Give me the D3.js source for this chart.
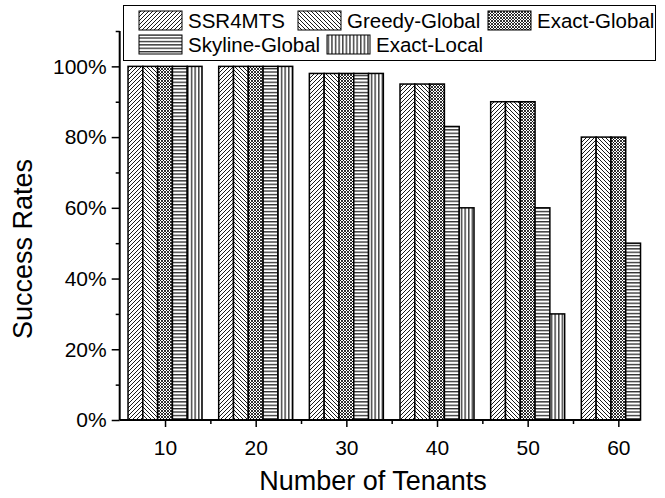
<!DOCTYPE html>
<html><head><meta charset="utf-8">
<script src="https://cdn.jsdelivr.net/npm/d3@7/dist/d3.min.js"></script>
<style>body{margin:0;background:#fff}svg text{font-family:"Liberation Sans",Arial,sans-serif;fill:#000}</style>
</head><body><svg id="c" width="665" height="498"></svg>
<script>
const tenants = [10, 20, 30, 40, 50, 60];
const seriesNames = ["SSR4MTS", "Greedy-Global", "Exact-Global", "Skyline-Global", "Exact-Local"];
const ssr4mts      = [100, 100, 98, 95, 90, 80];
const greedyGlobal = [100, 100, 98, 95, 90, 80];
const exactGlobal  = [100, 100, 98, 95, 90, 80];
const skylineGlobal= [100, 100, 98, 83, 60, 50];
const exactLocal   = [100, 100, 98, 60, 30, 0];
const seriesValues = [ssr4mts, greedyGlobal, exactGlobal, skylineGlobal, exactLocal];
const yTicks = [0, 20, 40, 60, 80, 100];
const yMinorTicks = [10, 30, 50, 70, 90, 110];
const xMinorTicks = [15, 25, 35, 45, 55];

const svg = d3.select("#c");
const defs = svg.append("defs");
function pat(id, w, h, draw){
  const p = defs.append("pattern").attr("id", id).attr("patternUnits","userSpaceOnUse")
    .attr("width", w).attr("height", h);
  p.append("rect").attr("width", w).attr("height", h).attr("fill", "#fff");
  draw(p);
}
pat("p0", 4, 4, p => p.append("path").attr("d","M-1,1 l2,-2 M0,4 l4,-4 M3,5 l2,-2").attr("stroke","#000").attr("stroke-width",0.9));
pat("p1", 4, 4, p => p.append("path").attr("d","M-1,3 l2,2 M0,0 l4,4 M3,-1 l2,2").attr("stroke","#000").attr("stroke-width",0.9));
pat("p2", 3, 3, p => p.append("path").attr("d","M-1,1 l2,-2 M0,3 l3,-3 M2,4 l2,-2 M-1,2 l2,2 M0,0 l3,3 M2,-1 l2,2").attr("stroke","#000").attr("stroke-width",0.8));
pat("p3", 4, 3.4, p => p.append("line").attr("x1",0).attr("x2",4).attr("y1",0.7).attr("y2",0.7).attr("stroke","#000").attr("stroke-width",1.1));
pat("p4", 3.6, 4, p => p.append("line").attr("y1",0).attr("y2",4).attr("x1",0.8).attr("x2",0.8).attr("stroke","#000").attr("stroke-width",1.1));

const x0 = 119.7, xEnd = 640;
const x = d3.scaleLinear().domain([5, 5 + (xEnd - x0) / 9.066]).range([x0, xEnd]);
const y = d3.scaleLinear().domain([0, 110]).range([420, 31]);
const groupW = 74;
const inner = d3.scaleBand().domain(d3.range(seriesNames.length)).range([-groupW/2, groupW/2]).padding(0);

const g = svg.append("g");
seriesValues.forEach((vals, si) => {
  g.selectAll(null).data(vals.map((v,i)=>({v, t: tenants[i]})).filter(d => d.v > 0)).enter().append("rect")
    .attr("x", d => x(d.t) + inner(si))
    .attr("width", inner.bandwidth())
    .attr("y", d => y(d.v))
    .attr("height", d => y(0) - y(d.v))
    .attr("fill", `url(#p${si})`)
    .attr("stroke", "#000").attr("stroke-width", 1.5);
});

// Y axis
const yAxis = svg.append("g").attr("transform", `translate(${x0},0)`)
  .call(d3.axisLeft(y).tickValues(yTicks).tickFormat(d => d + "%").tickSize(8).tickPadding(5));
svg.append("g").attr("transform", `translate(${x0},0)`)
  .call(d3.axisLeft(y).tickValues(yMinorTicks).tickFormat("").tickSize(4))
  .call(a => a.select(".domain").remove());
// X axis
const xAxis = svg.append("g").attr("transform", `translate(0,${y(0)})`)
  .call(d3.axisBottom(x).tickValues(tenants).tickSize(7).tickPadding(13));
svg.append("g").attr("transform", `translate(0,${y(0)})`)
  .call(d3.axisBottom(x).tickValues(xMinorTicks).tickFormat("").tickSize(4))
  .call(a => a.select(".domain").remove());
svg.selectAll(".domain").attr("stroke","#000").attr("stroke-width",2);
svg.selectAll(".tick line").attr("stroke","#000").attr("stroke-width",1.5);
svg.selectAll(".tick text").attr("font-size", 21).attr("font-family", '"Liberation Sans",Arial,sans-serif');
yAxis.selectAll(".domain").attr("d", `M0,${y(110)}V${y(0)}`);
xAxis.selectAll(".domain").attr("d", `M${x0},0H${xEnd}`);

// titles
svg.append("text").attr("x", 373).attr("y", 490).attr("text-anchor","middle").attr("font-size", 27).text("Number of Tenants");
svg.append("text").attr("transform", "translate(32,249) rotate(-90)").attr("text-anchor","middle").attr("font-size", 27).text("Success Rates");

// legend
const lg = svg.append("g");
lg.append("rect").attr("x", 123.5).attr("y", 5.5).attr("width", 532).attr("height", 55).attr("fill","#fff").attr("stroke","#000").attr("stroke-width",1);
const legPos = [[139, 11], [298, 11], [488, 11], [139, 35], [327, 35]];
seriesNames.forEach((name, i) => {
  const [lx, ly] = legPos[i];
  lg.append("rect").attr("x", lx).attr("y", ly).attr("width", 43).attr("height", 19)
    .attr("fill", `url(#p${i})`).attr("stroke","#000").attr("stroke-width",1);
  lg.append("text").attr("x", lx + 49).attr("y", ly + 17).attr("font-size", 20.5).text(name);
});
</script></body></html>
